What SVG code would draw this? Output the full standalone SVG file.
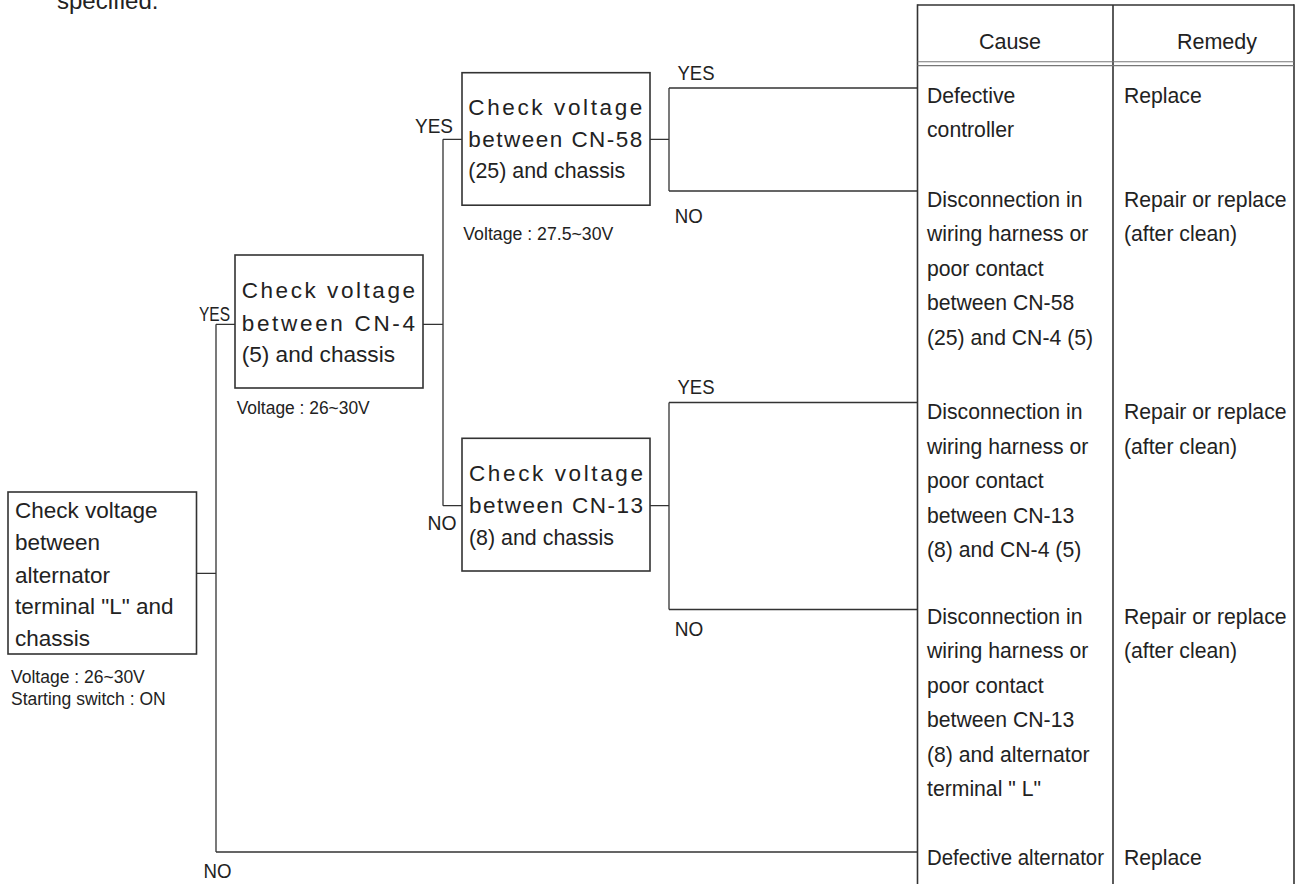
<svg xmlns="http://www.w3.org/2000/svg" width="1306" height="884" viewBox="0 0 1306 884">
<style>
text{font-family:"Liberation Sans",Arial,Helvetica,sans-serif;fill:#222}
.box{fill:#fff;stroke:#333;stroke-width:1.6}
.bt{font-size:22.5px}
.lbl{font-size:20.5px}
.v{font-size:17.5px}
.tt{font-size:21.2px}
.th{font-size:21.5px;text-anchor:middle}
.cn path,.cn line{fill:none;stroke:#333;stroke-width:1.3}
.tb line{stroke:#333;stroke-width:1.6}
.tb line.dl{stroke:#777;stroke-width:1.1}
</style>
<rect width="1306" height="884" fill="#fff"/>
<text x="57" y="9" style="font-size:24px">specified.</text>

<g id="connectors" class="cn">
<path d="M196.5 573.3H216M216 324.3V852M216 324.3H235M216 852H917.5"/>
<path d="M423 324.3H443M443 139.3V505.7M443 139.3H462M443 505.7H462"/>
<path d="M650 139.3H669M669 88V191M669 88H917.5M669 191H917.5"/>
<path d="M650 505.7H669M669 402.5V609.5M669 402.5H917.5M669 609.5H917.5"/>
<text class="lbl" x="199" y="321" textLength="31" lengthAdjust="spacingAndGlyphs">YES</text>
<text class="lbl" x="203.5" y="878.3" textLength="28" lengthAdjust="spacingAndGlyphs">NO</text>
<text class="lbl" x="415" y="132.7" textLength="38" lengthAdjust="spacingAndGlyphs">YES</text>
<text class="lbl" x="427.6" y="530" textLength="29" lengthAdjust="spacingAndGlyphs">NO</text>
<text class="lbl" x="677.5" y="80" textLength="37" lengthAdjust="spacingAndGlyphs">YES</text>
<text class="lbl" x="674.7" y="223" textLength="28" lengthAdjust="spacingAndGlyphs">NO</text>
<text class="lbl" x="677.5" y="394" textLength="37" lengthAdjust="spacingAndGlyphs">YES</text>
<text class="lbl" x="674.7" y="636" textLength="28.5" lengthAdjust="spacingAndGlyphs">NO</text>
</g>

<g id="n-main">
<rect class="box" x="8" y="492" width="188.5" height="162"/>
<text class="bt" x="15" y="518.3">Check voltage</text>
<text class="bt" x="15" y="550">between</text>
<text class="bt" x="15" y="582.5">alternator</text>
<text class="bt" x="15" y="614">terminal "L" and</text>
<text class="bt" x="15" y="645.5">chassis</text>
<text class="v" x="11" y="682.7">Voltage : 26~30V</text>
<text class="v" x="11" y="705">Starting switch : ON</text>
</g>

<g id="n-cn4">
<rect class="box" x="235" y="255" width="188" height="133"/>
<text class="bt" x="241.7" y="298.3" textLength="173.3" lengthAdjust="spacing">Check voltage</text>
<text class="bt" x="241.7" y="330.7" textLength="173.3" lengthAdjust="spacing">between CN-4</text>
<text class="bt" x="241.7" y="361.7" textLength="153.3" lengthAdjust="spacingAndGlyphs">(5) and chassis</text>
<text class="v" x="236.7" y="414" textLength="133" lengthAdjust="spacingAndGlyphs">Voltage : 26~30V</text>
</g>

<g id="n-cn58">
<rect class="box" x="462" y="72.7" width="188" height="132.5"/>
<text class="bt" x="468.3" y="115.2" textLength="174" lengthAdjust="spacing">Check voltage</text>
<text class="bt" x="468.3" y="146.5" textLength="174" lengthAdjust="spacing">between CN-58</text>
<text class="bt" x="468.3" y="177.5" textLength="157" lengthAdjust="spacingAndGlyphs">(25) and chassis</text>
<text class="v" x="463.3" y="240" textLength="150" lengthAdjust="spacingAndGlyphs">Voltage : 27.5~30V</text>
</g>

<g id="n-cn13">
<rect class="box" x="462" y="438.3" width="188" height="132.7"/>
<text class="bt" x="469" y="480.8" textLength="174" lengthAdjust="spacing">Check voltage</text>
<text class="bt" x="469" y="513" textLength="174" lengthAdjust="spacing">between CN-13</text>
<text class="bt" x="469" y="544.5" textLength="145" lengthAdjust="spacingAndGlyphs">(8) and chassis</text>
</g>

<g id="table" class="tb">
<line x1="917.5" y1="5" x2="1294" y2="5"/>
<line x1="917.5" y1="4.2" x2="917.5" y2="884"/>
<line x1="1113" y1="5" x2="1113" y2="884"/>
<line x1="1294" y1="4.2" x2="1294" y2="884"/>
<line class="dl" x1="917.5" y1="61.8" x2="1294" y2="61.8"/>
<line class="dl" x1="917.5" y1="65.6" x2="1294" y2="65.6"/>
<text class="th" x="1010" y="49">Cause</text>
<text class="th" x="1217" y="49">Remedy</text>
</g>

<g id="r-controller">
<text class="tt" x="927" y="102.5">Defective</text>
<text class="tt" x="927" y="137">controller</text>
<text class="tt" x="1124" y="102.5">Replace</text>
</g>

<g id="r-cn58-cn4">
<text class="tt" x="927" y="206.7">Disconnection in</text>
<text class="tt" x="927" y="241.2">wiring harness or</text>
<text class="tt" x="927" y="275.7">poor contact</text>
<text class="tt" x="927" y="310.2">between CN-58</text>
<text class="tt" x="927" y="344.7">(25) and CN-4 (5)</text>
<text class="tt" x="1124" y="206.7">Repair or replace</text>
<text class="tt" x="1124" y="241.2">(after clean)</text>
</g>

<g id="r-cn13-cn4">
<text class="tt" x="927" y="419">Disconnection in</text>
<text class="tt" x="927" y="453.5">wiring harness or</text>
<text class="tt" x="927" y="488">poor contact</text>
<text class="tt" x="927" y="522.5">between CN-13</text>
<text class="tt" x="927" y="557">(8) and CN-4 (5)</text>
<text class="tt" x="1124" y="419">Repair or replace</text>
<text class="tt" x="1124" y="453.5">(after clean)</text>
</g>

<g id="r-cn13-alt">
<text class="tt" x="927" y="623.5">Disconnection in</text>
<text class="tt" x="927" y="658">wiring harness or</text>
<text class="tt" x="927" y="692.5">poor contact</text>
<text class="tt" x="927" y="727">between CN-13</text>
<text class="tt" x="927" y="761.5">(8) and alternator</text>
<text class="tt" x="927" y="796">terminal " L"</text>
<text class="tt" x="1124" y="623.5">Repair or replace</text>
<text class="tt" x="1124" y="658">(after clean)</text>
</g>

<g id="r-alternator">
<text class="tt" x="927" y="865" textLength="177" lengthAdjust="spacingAndGlyphs">Defective alternator</text>
<text class="tt" x="1124" y="865">Replace</text>
</g>
</svg>
